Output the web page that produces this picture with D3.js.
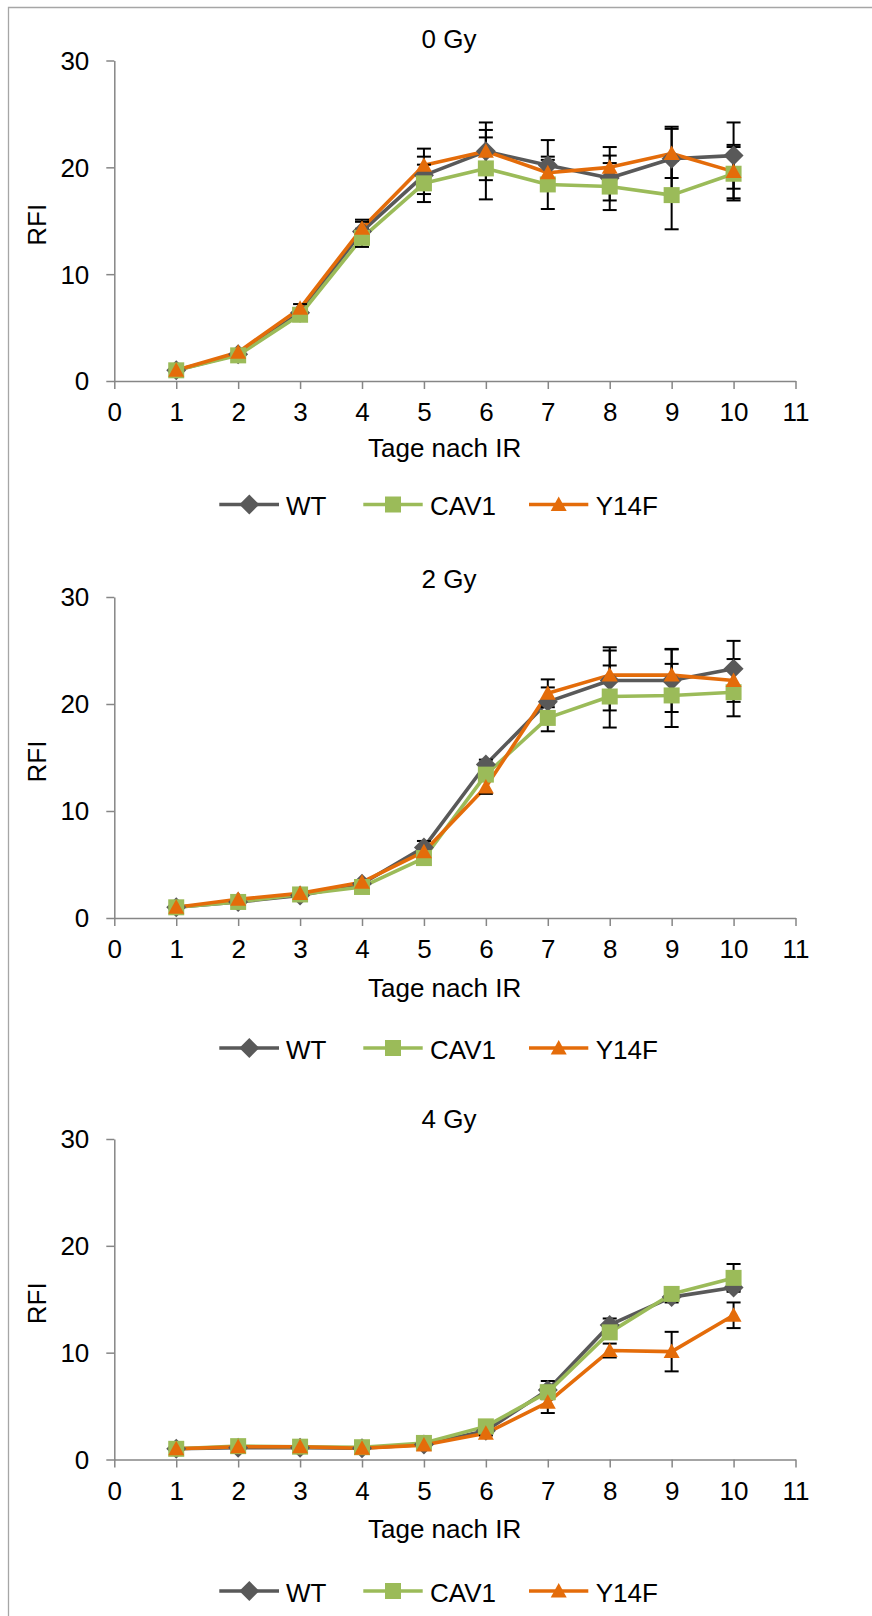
<!DOCTYPE html>
<html>
<head>
<meta charset="utf-8">
<script src="https://cdn.jsdelivr.net/npm/d3@7"></script>
<style>
  body { margin: 0; background: #fff; }
  svg { display: block; }
  text { font-family: "Liberation Sans", Arial, sans-serif; fill: #000; }
</style>
</head>
<body>
<svg id="chart" width="872" height="1616"></svg>
<script>
// Days after irradiation and axis ticks
const days = [1, 2, 3, 4, 5, 6, 7, 8, 9, 10];
const xTicks = [0, 1, 2, 3, 4, 5, 6, 7, 8, 9, 10, 11];
const yTicks = [0, 10, 20, 30];
const seriesNames = ["WT", "CAV1", "Y14F"];
const panelTitles = ["0 Gy", "2 Gy", "4 Gy"];
const xLabel = "Tage nach IR";
const yLabel = "RFI";

// 0 Gy – relative fluorescence intensity (mean) and error
const wt0   = [1.0, 2.5, 6.4, 14.0, 19.25, 21.5, 20.2, 19.0, 20.8, 21.1];
const cav0  = [1.0, 2.4, 6.2, 13.4, 18.5, 19.9, 18.4, 18.2, 17.4, 19.4];
const y14f0 = [1.0, 2.7, 6.8, 14.3, 20.2, 21.5, 19.5, 20.0, 21.3, 19.6];
const wt0Err   = [0, 0.2, 0.4, 0.9, 1.75, 2.7, 2.35, 2.1, 3.0, 3.1];
const cav0Err  = [0, 0.2, 0.4, 0.85, 1.75, 2.9, 2.3, 2.2, 3.2, 2.5];
const y14f0Err = [0, 0.2, 0.4, 0.8, 1.55, 2.0, 1.5, 1.9, 2.3, 2.5];

// 2 Gy
const wt2   = [1.0, 1.5, 2.1, 3.2, 6.6, 14.35, 20.2, 22.2, 22.2, 23.3];
const cav2  = [1.0, 1.5, 2.2, 2.9, 5.6, 13.4, 18.7, 20.7, 20.8, 21.1];
const y14f2 = [1.0, 1.75, 2.3, 3.35, 6.2, 12.25, 21.0, 22.7, 22.7, 22.2];
const wt2Err   = [0, 0.1, 0.1, 0.3, 0.6, 0.45, 1.35, 2.8, 2.95, 2.6];
const cav2Err  = [0, 0.1, 0.1, 0.2, 0.3, 0.5, 1.25, 2.9, 2.95, 2.25];
const y14f2Err = [0, 0.1, 0.1, 0.2, 0.3, 0.65, 1.3, 2.6, 2.4, 2.0];

// 4 Gy
const wt4   = [1.0, 1.1, 1.1, 1.05, 1.4, 2.7, 6.5, 12.6, 15.2, 16.1];
const cav4  = [1.0, 1.25, 1.2, 1.15, 1.55, 3.1, 6.3, 11.9, 15.5, 17.0];
const y14f4 = [1.0, 1.2, 1.2, 1.05, 1.35, 2.45, 5.35, 10.2, 10.1, 13.5];
const wt4Err   = [0, 0.1, 0.1, 0.1, 0.1, 0.2, 0.85, 0.6, 0.5, 0.25];
const cav4Err  = [0, 0.1, 0.1, 0.1, 0.1, 0.2, 0.6, 0.4, 0.3, 1.3];
const y14f4Err = [0, 0.1, 0.1, 0.1, 0.1, 0.2, 1.0, 0.65, 1.85, 1.2];

const panelValues = [[wt0, cav0, y14f0], [wt2, cav2, y14f2], [wt4, cav4, y14f4]];
const panelErrors = [[wt0Err, cav0Err, y14f0Err], [wt2Err, cav2Err, y14f2Err], [wt4Err, cav4Err, y14f4Err]];

// Styling
const colors = ["#595959", "#9BBB59", "#E46C0A"];
const axisColor = "#868686";
const fontSize = 26;

// Panel geometry
const layout = [
  { top: 60.5, bottom: 381,    titleY: 48.2,   tickY: 421,    axisTitleY: 456.5, legendY: 504.5 },
  { top: 597,  bottom: 918,    titleY: 588.2,  tickY: 958,    axisTitleY: 996.5, legendY: 1048 },
  { top: 1139, bottom: 1459.5, titleY: 1128,   tickY: 1500,   axisTitleY: 1538,  legendY: 1591 }
];
const plotLeft = 114.3, plotRight = 795.5;

const svg = d3.select("#chart");
svg.append("rect").attr("width", 872).attr("height", 1616).attr("fill", "#fff");

// Outer frame (top and left edges visible)
svg.append("path")
  .attr("d", "M8.5,1616 L8.5,7.5 L872,7.5")
  .attr("fill", "none").attr("stroke", "#a6a6a6").attr("stroke-width", 1.3);

// Marker shapes
function markerPath(kind) {
  if (kind === 0) return "M0,-10L10,0L0,10L-10,0Z";           // diamond
  if (kind === 1) return "M-8,-8L8,-8L8,8L-8,8Z";              // square
  return "M0,-8L8,6.5L-8,6.5Z";                               // triangle
}

const x = d3.scaleLinear().domain([0, 11]).range([plotLeft, plotRight]);

layout.forEach((L, p) => {
  const g = svg.append("g");
  const y = d3.scaleLinear().domain([0, 30]).range([L.bottom, L.top]);

  // Title
  g.append("text")
    .attr("x", 449).attr("y", L.titleY)
    .attr("text-anchor", "middle").attr("font-size", fontSize)
    .text(panelTitles[p]);

  // Y axis
  const yAxis = g.append("g")
    .attr("transform", `translate(${plotLeft},0)`)
    .call(d3.axisLeft(y).tickValues(yTicks).tickSize(8).tickPadding(17).tickSizeOuter(0));
  // X axis
  const xAxis = g.append("g")
    .attr("transform", `translate(0,${L.bottom})`)
    .call(d3.axisBottom(x).tickValues(xTicks).tickSize(8).tickPadding(0).tickSizeOuter(0));

  [yAxis, xAxis].forEach(a => {
    a.select(".domain").attr("stroke", axisColor).attr("stroke-width", 1.5);
    a.selectAll(".tick line").attr("stroke", axisColor).attr("stroke-width", 1.5);
    a.selectAll(".tick text").attr("font-size", fontSize)
      .attr("font-family", "'Liberation Sans', Arial, sans-serif").attr("fill", "#000");
  });
  yAxis.selectAll(".tick text").attr("dy", "0.34em");
  xAxis.selectAll(".tick text").attr("y", L.tickY - L.bottom).attr("dy", 0);

  // Axis titles
  g.append("text")
    .attr("x", 444.6).attr("y", L.axisTitleY)
    .attr("text-anchor", "middle").attr("font-size", fontSize)
    .text(xLabel);
  const ymid = (L.top + L.bottom) / 2 + 4;
  g.append("text")
    .attr("transform", `translate(46,${ymid}) rotate(-90)`)
    .attr("text-anchor", "middle").attr("font-size", fontSize)
    .text(yLabel);

  const line = d3.line().x((d, i) => x(days[i])).y(d => y(d));

  // Series lines
  panelValues[p].forEach((vals, s) => {
    g.append("path").datum(vals)
      .attr("d", line)
      .attr("fill", "none").attr("stroke", colors[s])
      .attr("stroke-width", 3.6).attr("stroke-linejoin", "round");
  });

  // Error bars
  panelValues[p].forEach((vals, s) => {
    const errs = panelErrors[p][s];
    const eb = g.append("g").attr("stroke", "#000").attr("stroke-width", 2);
    vals.forEach((v, i) => {
      const e = errs[i];
      if (!e) return;
      const cx = x(days[i]);
      const y1 = y(v + e), y2 = y(v - e);
      eb.append("line").attr("x1", cx).attr("x2", cx).attr("y1", y1).attr("y2", y2);
      eb.append("line").attr("x1", cx - 7).attr("x2", cx + 7).attr("y1", y1).attr("y2", y1);
      eb.append("line").attr("x1", cx - 7).attr("x2", cx + 7).attr("y1", y2).attr("y2", y2);
    });
  });

  // Markers
  panelValues[p].forEach((vals, s) => {
    g.append("g").selectAll("path").data(vals).join("path")
      .attr("d", markerPath(s))
      .attr("transform", (d, i) => `translate(${x(days[i])},${y(d)})`)
      .attr("fill", colors[s]);
  });

  // Legend
  const legendItems = [
    { x0: 219.3, x1: 279,   mx: 249.3, tx: 286 },
    { x0: 363.3, x1: 422.7, mx: 393,   tx: 430 },
    { x0: 529,   x1: 588.3, mx: 558.7, tx: 595.7 }
  ];
  const lg = g.append("g");
  seriesNames.forEach((name, s) => {
    const it = legendItems[s];
    lg.append("line")
      .attr("x1", it.x0).attr("x2", it.x1)
      .attr("y1", L.legendY).attr("y2", L.legendY)
      .attr("stroke", colors[s]).attr("stroke-width", 3.6);
    lg.append("path")
      .attr("d", markerPath(s))
      .attr("transform", `translate(${it.mx},${L.legendY})`)
      .attr("fill", colors[s]);
    lg.append("text")
      .attr("x", it.tx).attr("y", L.legendY + 10.5)
      .attr("font-size", fontSize)
      .text(name);
  });
});
</script>
</body>
</html>
